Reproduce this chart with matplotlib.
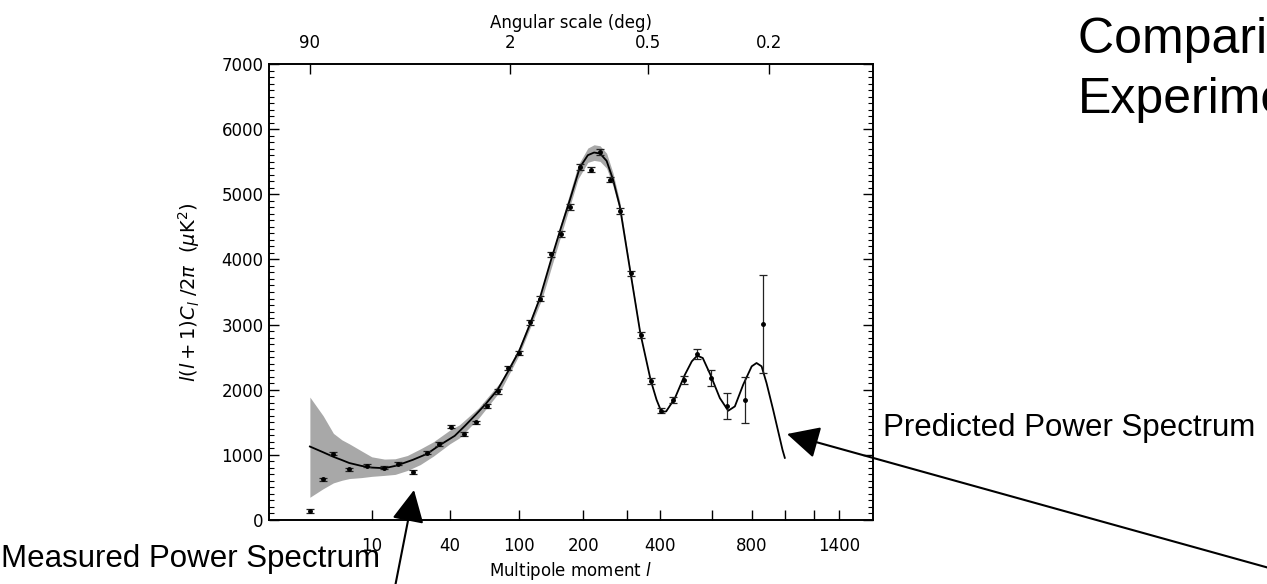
# plot.py
# WMAP 功率谱：测量点 + 理论曲线 + 宇宙方差带

import numpy as np
import matplotlib
matplotlib.use("Agg")
import matplotlib.pyplot as plt
from matplotlib.ticker import FixedLocator, MultipleLocator

plt.rcParams['font.family'] = ['DejaVu Sans']

# 测量点 (l, 值, 误差)
meas_l = [2, 3, 4, 6, 9, 13, 17, 22, 28, 34, 41, 49, 58, 67, 77, 88, 100, 113,
          127, 143, 159, 175, 194, 215, 235, 259, 282, 311, 339, 369, 404, 444,
          485, 535, 596, 668, 762, 863]
meas_cl = [138, 626, 1020, 780, 835, 805, 862, 738, 1035, 1169, 1435, 1323, 1497,
           1744, 1974, 2334, 2565, 3035, 3395, 4077, 4389, 4805, 5415, 5380, 5651,
           5226, 4743, 3785, 2842, 2138, 1677, 1846, 2154, 2549, 2180, 1754, 1846,
           3005]
meas_err = [25, 25, 25, 25, 25, 25, 25, 25, 25, 30, 30, 30, 30, 30, 35, 35, 35, 40,
            40, 40, 40, 45, 45, 45, 45, 45, 45, 45, 45, 45, 40, 46, 64, 70, 123,
            197, 350, 750]

# 理论曲线
theory_l = [2, 3, 4, 5, 6, 8, 10, 13, 16, 18, 22, 28, 34, 43, 50, 58, 66, 77, 88,
            100, 113, 127, 143, 159, 175, 193, 209, 222, 235, 250, 265, 282, 309,
            338, 369, 388, 404, 420, 451, 488, 515, 537, 560, 593, 636, 676, 709,
            752, 798, 825, 854, 883, 923, 982, 997]
theory_cl = [1128, 1040, 970, 920, 875, 830, 805, 795, 830, 862, 923, 1015, 1144,
             1292, 1450, 1620, 1780, 2000, 2290, 2590, 2990, 3410, 3980, 4480, 4923,
             5410, 5600, 5641, 5626, 5513, 5231, 4820, 3846, 2872, 2154, 1846, 1660,
             1667, 1872, 2231, 2436, 2523, 2487, 2231, 1872, 1677, 1744, 2077, 2359,
             2410, 2359, 2103, 1692, 1077, 954]

# 灰色误差带 (只在低 l 到第一峰可见)
band_l = [2, 3, 4, 5, 6, 8, 10, 13, 16, 20, 25, 31, 40, 46, 60, 80, 100, 130, 160,
          190, 209, 222, 235, 250, 265, 282, 309, 338]
band_hi = [1887, 1600, 1330, 1230, 1170, 1060, 970, 935, 940, 990, 1090, 1200, 1380,
           1460, 1720, 2120, 2650, 3540, 4580, 5450, 5710, 5760, 5745, 5630, 5330,
           4890, 3880, 2885]
band_lo = [349, 480, 570, 610, 636, 651, 670, 685, 700, 760, 850, 980, 1170, 1260,
           1560, 1990, 2530, 3400, 4390, 5240, 5490, 5520, 5505, 5400, 5130, 4750,
           3810, 2860]

# 刻度
xtick_l = [10, 40, 100, 200, 300, 400, 600, 800, 1000, 1200, 1400]
xtick_lab = ['10', '40', '100', '200', '', '400', '', '800', '', '', '1400']
ang_deg = [90, 2, 0.5, 0.2]
ang_lab = ['90', '2', '0.5', '0.2']

P = 0.257


def fwd(l):
    return np.power(np.clip(l, 1e-9, None), P)


def inv(u):
    return np.power(np.clip(u, 1e-9, None), 1.0 / P)


W, H = 1267, 584
fig = plt.figure(figsize=(W / 100, H / 100), dpi=100)
fig.patch.set_facecolor('white')

ax = fig.add_axes([269 / W, 1 - 520 / H, 604 / W, 456 / H])
ax.set_xscale('function', functions=(fwd, inv))

ax.fill_between(band_l, band_lo, band_hi, color='#a8a8a8', lw=0, zorder=1)
ax.plot(theory_l, theory_cl, color='black', lw=1.3, zorder=2)
ax.errorbar(meas_l, meas_cl, yerr=meas_err, fmt='o', ms=2.5, color='black',
            ecolor='#222222', elinewidth=0.9, capsize=3, capthick=0.9, zorder=3)

ax.set_xlim(0.4, 1706)
ax.set_ylim(0, 7000)

ax.xaxis.set_major_locator(FixedLocator(xtick_l))
ax.set_xticklabels(xtick_lab)
ax.xaxis.set_minor_locator(FixedLocator([]))
ax.yaxis.set_major_locator(MultipleLocator(1000))
ax.yaxis.set_minor_locator(MultipleLocator(100))

ax.tick_params(axis='x', which='major', direction='in', length=7, width=1,
               pad=12, labelsize=12, top=False)
ax.tick_params(axis='y', which='major', direction='in', length=7, width=1,
               pad=4, labelsize=12, right=True)
ax.tick_params(axis='y', which='minor', direction='in', length=3.5, width=0.8,
               right=True)

for sp in ax.spines.values():
    sp.set_linewidth(1.2)

ax.set_xlabel(r'Multipole moment $l$', fontsize=12)
ax.xaxis.set_label_coords(0.5, -0.088)
ax.set_ylabel(r'$l(l+1)C_l\ /2\pi\ \ (\mu\mathrm{K}^2)$', fontsize=14)
ax.yaxis.set_label_coords(-0.111, 0.5)

# 顶部角尺度轴
ax2 = ax.twiny()
ax2.set_xscale('function', functions=(fwd, inv))
ax2.set_xlim(ax.get_xlim())
ax2.xaxis.set_major_locator(FixedLocator([180.0 / d for d in ang_deg]))
ax2.set_xticklabels(ang_lab)
ax2.xaxis.set_minor_locator(FixedLocator([]))
ax2.tick_params(axis='x', which='major', direction='in', length=7, width=1,
                pad=9, labelsize=12)
ax2.set_xlabel('Angular scale (deg)', fontsize=12)
ax2.xaxis.set_label_coords(0.5, 1.079)
for sp in ax2.spines.values():
    sp.set_linewidth(1.2)

# 右侧文字
arial = ['Liberation Sans', 'DejaVu Sans']
fig.text(1078 / W, 1 - 40 / H, 'Comparison of Theory and', fontsize=36,
         family=arial, va='center', ha='left')
fig.text(1078 / W, 1 - 100 / H, 'Experiment', fontsize=36,
         family=arial, va='center', ha='left')
fig.text(883 / W, 1 - 428 / H, 'Predicted Power Spectrum', fontsize=22.5,
         family=arial, va='center', ha='left')
fig.text(1 / W, 1 - 559 / H, 'Measured Power Spectrum', fontsize=22.5,
         family=arial, va='center', ha='left')

# 箭头
arrow = dict(arrowstyle='-|>,head_length=0.5,head_width=0.25', mutation_scale=40,
             lw=1.5, color='black', shrinkA=0, shrinkB=0)
ax.annotate('', xy=(414, H - 490), xycoords='figure pixels',
            xytext=(394, H - 592), textcoords='figure pixels',
            arrowprops=arrow, annotation_clip=False)
ax.annotate('', xy=(787, H - 434), xycoords='figure pixels',
            xytext=(1280, H - 571), textcoords='figure pixels',
            arrowprops=arrow, annotation_clip=False)

fig.savefig('out.png', dpi=100)
